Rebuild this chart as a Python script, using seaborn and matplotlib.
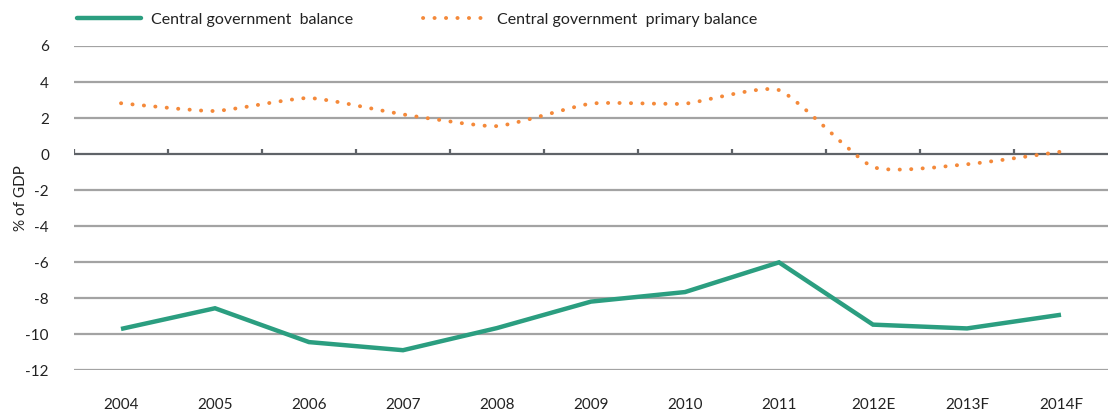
import matplotlib
matplotlib.use("Agg")
import matplotlib.pyplot as plt
from matplotlib.path import Path
from matplotlib.patches import PathPatch
from matplotlib.lines import Line2D
import numpy as np
import pandas as pd
import seaborn as sns

years = ["2004", "2005", "2006", "2007", "2008", "2009", "2010", "2011", "2012E", "2013F", "2014F"]
balance = [-9.72, -8.57, -10.45, -10.9, -9.67, -8.2, -7.67, -6.02, -9.48, -9.69, -8.93]
primary_balance = [2.82, 2.39, 3.11, 2.2, 1.55, 2.8, 2.8, 3.55, -0.72, -0.57, 0.13]
y_ticks = [6, 4, 2, 0, -2, -4, -6, -8, -10, -12]

GREEN = "#2b9e80"
ORANGE = "#f4893a"
TEXT = "#222222"
FS = 11

sns.set_theme(style="white")
plt.rcParams["font.family"] = ["Lato", "DejaVu Sans"]

fig = plt.figure(figsize=(11.14, 4.15), dpi=100)
ax = fig.add_axes([74 / 1114, 1 - 370 / 415, (1108 - 74) / 1114, (370 - 46) / 415])

df = pd.DataFrame({"pos": np.arange(len(years)), "balance": balance})
sns.lineplot(data=df, x="pos", y="balance", ax=ax, color=GREEN, linewidth=3.2,
             solid_capstyle="butt", solid_joinstyle="miter", zorder=4)

# Smoothed primary balance: cubic Bezier segments with low-tension control points
xs = np.arange(len(years), dtype=float)
ys = np.array(primary_balance, dtype=float)
verts = [(xs[0], ys[0])]
codes = [Path.MOVETO]
t = 0.09
for i in range(len(xs) - 1):
    p0 = (xs[max(i - 1, 0)], ys[max(i - 1, 0)])
    p1 = (xs[i], ys[i])
    p2 = (xs[i + 1], ys[i + 1])
    p3 = (xs[min(i + 2, len(xs) - 1)], ys[min(i + 2, len(xs) - 1)])
    c1 = (p1[0] + (p2[0] - p0[0]) * t, p1[1] + (p2[1] - p0[1]) * t)
    c2 = (p2[0] - (p3[0] - p1[0]) * t, p2[1] - (p3[1] - p1[1]) * t)
    verts += [c1, c2, p2]
    codes += [Path.CURVE4] * 3
patch = PathPatch(Path(verts, codes), facecolor="none", edgecolor=ORANGE,
                  linewidth=2.8, linestyle=(0, (0.05, 2.9)), capstyle="round", zorder=5)
ax.add_patch(patch)

ax.set_xlim(-0.5, len(years) - 0.5)
ax.set_ylim(-12, 6)
ax.set_yticks(y_ticks)
ax.set_yticklabels([str(v) for v in y_ticks])
ax.set_xticks(xs)
ax.set_xticklabels(years)
ax.tick_params(axis="both", length=0, labelsize=FS, colors=TEXT)
ax.tick_params(axis="x", pad=20)
ax.tick_params(axis="y", pad=18)

for v in y_ticks:
    if v == 0:
        continue
    ax.axhline(v, color="#a3a3a3", linewidth=1.6, zorder=1)
ax.axhline(0, color="#5f6368", linewidth=1.6, zorder=2)
# category boundary ticks rising from the zero line
for b in np.arange(-0.5, len(years) - 0.5, 1.0):
    ax.plot([b, b], [0, 0.28], color="#5f6368", linewidth=1.6, zorder=2,
            solid_capstyle="butt")

for s in ax.spines.values():
    s.set_visible(False)
ax.set_xlabel("")
ax.set_ylabel("% of GDP", fontsize=FS, color=TEXT)
ax.yaxis.set_label_coords(-46 / 1034, 0.53)

handles = [
    Line2D([], [], color=GREEN, linewidth=3.2),
    Line2D([], [], color=ORANGE, linewidth=2.8, linestyle=(0, (0.05, 2.9)),
           dash_capstyle="round"),
]
fig.legend(handles, ["Central government  balance", "Central government  primary balance"],
           loc="center left", bbox_to_anchor=(63 / 1114, 1 - 20 / 415), ncol=2,
           frameon=False, fontsize=FS + 0.5, handlelength=4.0, handletextpad=0.6,
           columnspacing=4.4, labelcolor=TEXT)

fig.savefig("out.png", dpi=100)
